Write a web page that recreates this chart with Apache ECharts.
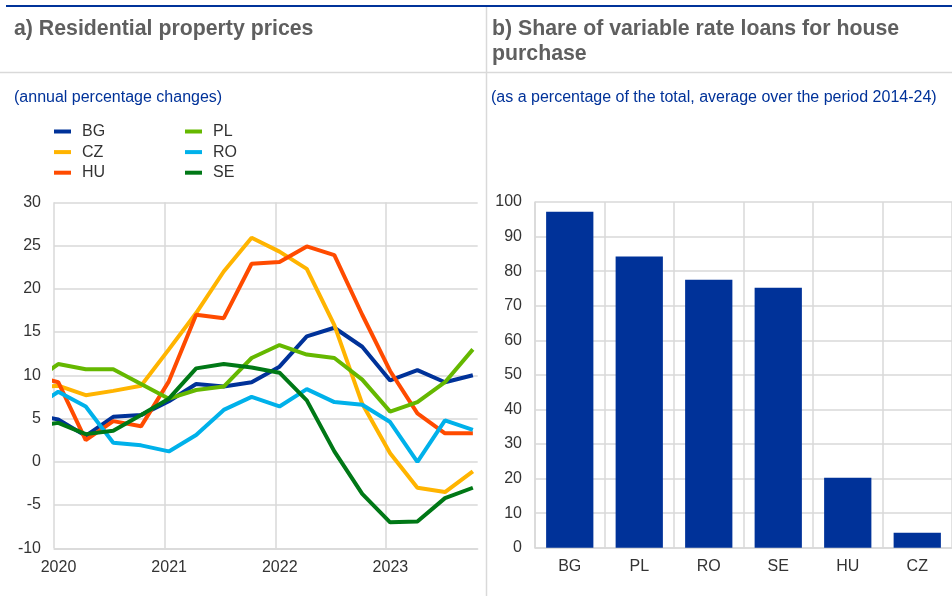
<!DOCTYPE html>
<html>
<head>
<meta charset="utf-8">
<script src="https://cdn.jsdelivr.net/npm/echarts@6/dist/echarts.min.js"></script>
<style>
  html, body { margin: 0; padding: 0; background: #fff; }
  #chart { width: 952px; height: 596px; }
</style>
</head>
<body>
<div id="chart"></div>
<script>
// panel a) quarterly observations (first one sits just left of the axis and is clipped)
const quarterDates = ['2019-10-15', '2020-01-15', '2020-04-15', '2020-07-15', '2020-10-15',
  '2021-01-15', '2021-04-15', '2021-07-15', '2021-10-15',
  '2022-01-15', '2022-04-15', '2022-07-15', '2022-10-15',
  '2023-01-15', '2023-04-15', '2023-07-15', '2023-10-15']
const bg = [5.5, 4.9, 3.0, 5.2, 5.4, 7.0, 9.0, 8.7, 9.2, 11.0, 14.5, 15.5, 13.3, 9.4, 10.6, 9.2, 10.0]
const cz = [8.5, 8.8, 7.7, 8.2, 8.8, 13.0, 17.2, 22.0, 25.9, 24.3, 22.3, 15.8, 6.7, 1.0, -3.0, -3.5, -1.1]
const hu = [10.0, 9.2, 2.5, 4.7, 4.1, 9.3, 17.0, 16.6, 22.9, 23.1, 24.9, 23.9, 17.0, 10.5, 5.6, 3.3, 3.3]
const pl = [9.0, 11.3, 10.7, 10.7, 9.0, 7.3, 8.3, 8.7, 12.0, 13.5, 12.4, 12.0, 9.5, 5.8, 6.9, 9.2, 13.0]
const ro = [6.0, 8.1, 6.4, 2.2, 1.9, 1.2, 3.1, 6.0, 7.5, 6.4, 8.4, 6.9, 6.6, 4.6, 0.0, 4.8, 3.7]
const se = [4.0, 4.5, 3.2, 3.6, 5.4, 7.3, 10.8, 11.3, 10.9, 10.3, 7.1, 1.2, -3.7, -7.0, -6.9, -4.2, -3.0]

// panel b) share of variable rate loans
const loanCountries = ['BG', 'PL', 'RO', 'SE', 'HU', 'CZ']
const loanShare = [97.2, 84.2, 77.5, 75.2, 20.2, 4.3]

const FONT = '"Liberation Sans", Arial, sans-serif'
const GRID_COLOR = '#d9d9d9'
const TEXT_COLOR = '#333333'

function toYear(s) {
  const d = new Date(s + 'T00:00:00Z')
  const y = d.getUTCFullYear()
  const start = Date.UTC(y, 0, 1)
  const end = Date.UTC(y + 1, 0, 1)
  return y + (d.getTime() - start) / (end - start)
}

function lineSeries(name, values, color) {
  return {
    name: name,
    type: 'line',
    xAxisIndex: 0,
    yAxisIndex: 0,
    data: quarterDates.map((d, i) => [toYear(d), values[i]]),
    showSymbol: false,
    symbol: 'none',
    lineStyle: { color: color, width: 4 },
    itemStyle: { color: color },
  }
}

const legendBase = {
  orient: 'vertical',
  top: 123.5,
  padding: 0,
  icon: 'rect',
  itemWidth: 17,
  itemHeight: 4,
  itemGap: 4.6,
  textStyle: { fontFamily: FONT, fontSize: 16, color: TEXT_COLOR, lineHeight: 16, padding: [0, 0, 0, 6] },
}

let option = {
  animation: false,
  textStyle: { fontFamily: FONT },
  title: [
    {
      text: 'a) Residential property prices',
      left: 14, top: 16.5, padding: 0,
      textStyle: { fontSize: 21.3, fontWeight: 'bold', color: '#5f5f5f', lineHeight: 25 },
    },
    {
      text: 'b) Share of variable rate loans for house\npurchase',
      left: 492, top: 16.5, padding: 0,
      textStyle: { fontSize: 21.3, fontWeight: 'bold', color: '#5f5f5f', lineHeight: 25 },
    },
    {
      text: '(annual percentage changes)',
      left: 14, top: 88.5, padding: 0,
      textStyle: { fontSize: 16, fontWeight: 'normal', color: '#003299', lineHeight: 18 },
    },
    {
      text: '(as a percentage of the total, average over the period 2014-24)',
      left: 491, top: 88.5, padding: 0,
      textStyle: { fontSize: 16, fontWeight: 'normal', color: '#003299', lineHeight: 18 },
    },
  ],
  graphic: [
    { type: 'line', shape: { x1: 6, y1: 6, x2: 952, y2: 6 }, style: { stroke: '#003299', lineWidth: 2 } },
    { type: 'line', shape: { x1: 0, y1: 72.5, x2: 952, y2: 72.5 }, style: { stroke: GRID_COLOR, lineWidth: 1.5 } },
    { type: 'line', shape: { x1: 486.5, y1: 7, x2: 486.5, y2: 596 }, style: { stroke: GRID_COLOR, lineWidth: 1.5 } },
  ],
  legend: [
    Object.assign({}, legendBase, { left: 54, data: ['BG', 'CZ', 'HU'] }),
    Object.assign({}, legendBase, { left: 185, data: ['PL', 'RO', 'SE'] }),
  ],
  grid: [
    { left: 54, top: 202.3, width: 423.7, height: 346 },
    { left: 535, top: 202, width: 420, height: 345.7 },
  ],
  xAxis: [
    {
      type: 'value',
      gridIndex: 0,
      min: 2020,
      max: 2023.83,
      interval: 1,
      axisLine: { show: true, onZero: false, lineStyle: { color: GRID_COLOR, width: 1.5 } },
      axisTick: { show: false },
      axisLabel: {
        fontSize: 16, color: TEXT_COLOR, margin: 11, padding: [0, 0, 0, 9],
        formatter: v => (Number.isInteger(v) ? String(v) : ''),
      },
      splitLine: { show: true, showMaxLine: false, lineStyle: { color: GRID_COLOR, width: 1.5 } },
    },
    {
      type: 'category',
      gridIndex: 1,
      data: loanCountries,
      axisLine: { show: true, lineStyle: { color: GRID_COLOR, width: 1.5 } },
      axisTick: { show: false },
      axisLabel: { interval: 0, fontSize: 16, color: TEXT_COLOR, margin: 11 },
      splitLine: { show: true, interval: 0, lineStyle: { color: GRID_COLOR, width: 1.5 } },
    },
  ],
  yAxis: [
    {
      type: 'value',
      gridIndex: 0,
      min: -10,
      max: 30,
      interval: 5,
      axisLine: { show: false },
      axisTick: { show: false },
      axisLabel: { fontSize: 16, color: TEXT_COLOR, margin: 13 },
      splitLine: { lineStyle: { color: GRID_COLOR, width: 1.5 } },
    },
    {
      type: 'value',
      gridIndex: 1,
      min: 0,
      max: 100,
      interval: 10,
      axisLine: { show: true, lineStyle: { color: GRID_COLOR, width: 1.5 } },
      axisTick: { show: false },
      axisLabel: { fontSize: 16, color: TEXT_COLOR, margin: 13 },
      splitLine: { lineStyle: { color: GRID_COLOR, width: 1.5 } },
    },
  ],
  series: [
    lineSeries('BG', bg, '#003299'),
    lineSeries('CZ', cz, '#ffb400'),
    lineSeries('HU', hu, '#ff4b00'),
    lineSeries('PL', pl, '#65b800'),
    lineSeries('RO', ro, '#00b1ea'),
    lineSeries('SE', se, '#007816'),
    {
      name: 'share',
      type: 'bar',
      xAxisIndex: 1,
      yAxisIndex: 1,
      data: loanShare,
      barCategoryGap: '32%',
      itemStyle: { color: '#003299' },
    },
  ],
}

let chart = echarts.init(document.getElementById('chart'), null, { renderer: 'canvas' })
chart.setOption(option)
</script>
</body>
</html>
